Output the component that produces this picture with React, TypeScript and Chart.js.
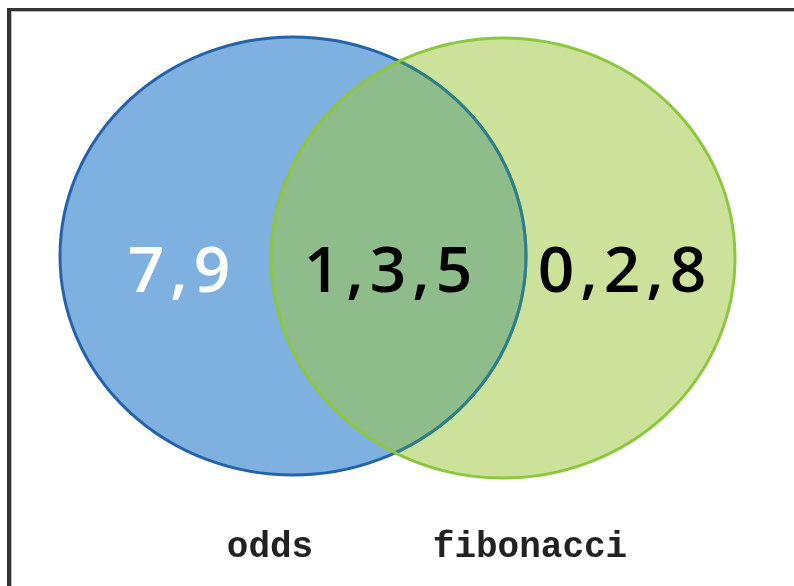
import React, { useEffect, useRef } from "react";
import { Chart, registerables } from "chart.js";

Chart.register(...registerables);

// ---- data ----
const setLabels = ["odds", "fibonacci"];
const oddsOnly = [7, 9];
const shared = [1, 3, 5];
const fibOnly = [0, 2, 8];

// ---- layout (scale units, x: 0..794, y: 0..586 top-down) ----
const X_MAX = 794;
const Y_MAX = 586;
const circleLayout = [
  { cx: 293, cy: 256, rx: 233, ry: 219, fill: "#7EB0E0", stroke: "#2563AA" },
  { cx: 503, cy: 258, rx: 232, ry: 220, fill: "rgba(157,199,61,0.52)", stroke: "#8DC63F" },
];
const overlapStroke = "#2F7F88";
const regionLayout = [
  { x: 179, y: 274, color: "#ffffff" },
  { x: 388, y: 274, color: "#000000" },
  { x: 622, y: 274, color: "#000000" },
];
const labelLayout = [
  { x: 270, y: 557 },
  { x: 530, y: 557 },
];

const vennPlugin = {
  id: "venn",
  afterDatasetsDraw(chart: any) {
    const { ctx, scales } = chart;
    const xs = scales.x;
    const ys = scales.y;
    const px = (v: number) => xs.getPixelForValue(v);
    const py = (v: number) => ys.getPixelForValue(v);

    const geo = circleLayout.map((c) => {
      const cx = px(c.cx);
      const cy = py(c.cy);
      return {
        cx,
        cy,
        rx: Math.abs(px(c.cx + c.rx) - cx),
        ry: Math.abs(py(c.cy + c.ry) - cy),
      };
    });
    const path = (i: number) => {
      const g = geo[i];
      ctx.beginPath();
      ctx.ellipse(g.cx, g.cy, g.rx, g.ry, 0, 0, Math.PI * 2);
    };

    ctx.save();
    ctx.lineWidth = 3;
    // first set
    path(0);
    ctx.fillStyle = circleLayout[0].fill;
    ctx.fill();
    ctx.strokeStyle = circleLayout[0].stroke;
    ctx.stroke();
    // second set fill
    path(1);
    ctx.fillStyle = circleLayout[1].fill;
    ctx.fill();
    // first outline inside overlap
    ctx.save();
    path(1);
    ctx.clip();
    path(0);
    ctx.strokeStyle = overlapStroke;
    ctx.stroke();
    ctx.restore();
    // second outline
    path(1);
    ctx.strokeStyle = circleLayout[1].stroke;
    ctx.stroke();

    const groups = [oddsOnly, shared, fibOnly];
    ctx.textAlign = "center";
    ctx.textBaseline = "middle";
    groups.forEach((g, i) => {
      const r = regionLayout[i];
      const text = g.join(",");
      ctx.save();
      ctx.translate(px(r.x), py(r.y));
      ctx.font = "600 64px 'Open Sans'";
      (ctx as any).letterSpacing = "6px";
      ctx.fillStyle = r.color;
      ctx.fillText(text, 3, 0);
      ctx.restore();
    });

    ctx.textBaseline = "alphabetic";
    ctx.font = "bold 36px 'Liberation Mono'";
    ctx.fillStyle = "#222";
    setLabels.forEach((l, i) => {
      const p = labelLayout[i];
      ctx.fillText(l, px(p.x), py(p.y));
    });
    ctx.restore();
  },
};

export default function App() {
  const ref = useRef<HTMLCanvasElement | null>(null);
  useEffect(() => {
    if (!ref.current) return;
    const chart = new Chart(ref.current, {
      type: "scatter",
      data: { datasets: [{ data: [], pointRadius: 0 }] },
      options: {
        animation: false,
        responsive: true,
        maintainAspectRatio: false,
        layout: { padding: 0 },
        plugins: { legend: { display: false }, tooltip: { enabled: false } },
        scales: {
          x: { type: "linear", min: 0, max: X_MAX, display: false },
          y: { type: "linear", min: 0, max: Y_MAX, reverse: true, display: false },
        },
      },
      plugins: [vennPlugin],
    });
    return () => chart.destroy();
  }, []);

  return (
    <div style={{ position: "absolute", left: 0, top: 0, width: 794, height: 586, background: "#fff" }}>
      <div style={{ position: "absolute", left: 0, top: 0, width: 794, height: 586 }}>
        <canvas ref={ref} />
      </div>
      <div style={{ position: "absolute", left: 7, top: 8, width: 787, height: 2.5, background: "#333" }} />
      <div style={{ position: "absolute", left: 7, top: 10.5, width: 787, height: 1, background: "#bbb" }} />
      <div style={{ position: "absolute", left: 7, top: 8, width: 4, height: 578, background: "#333" }} />
      <div style={{ position: "absolute", left: 11, top: 10.5, width: 1, height: 576, background: "#bbb" }} />
    </div>
  );
}
